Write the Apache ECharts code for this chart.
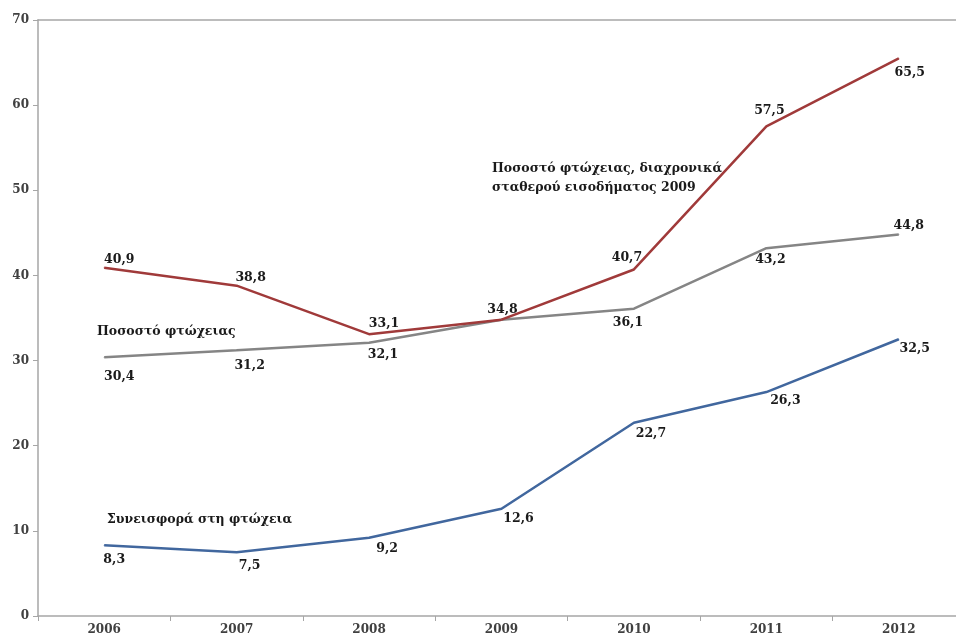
<!DOCTYPE html>
<html>
<head>
<meta charset="utf-8">
<script src="https://cdn.jsdelivr.net/npm/echarts@6/dist/echarts.min.js"></script>
<style>
  html, body { margin: 0; padding: 0; background: #fff; }
  #main { width: 956px; height: 641px; }
</style>
</head>
<body>
<div id="main"></div>
<script>
// τιμές ανά έτος
var years = ['2006', '2007', '2008', '2009', '2010', '2011', '2012'];
var fixedIncome = [40.9, 38.8, 33.1, 34.8, 40.7, 57.5, 65.5];   // σταθερού εισοδήματος 2009
var povertyRate = [30.4, 31.2, 32.1, 34.8, 36.1, 43.2, 44.8];
var contribution = [8.3, 7.5, 9.2, 12.6, 22.7, 26.3, 32.5];

// θέσεις ετικετών (μετατόπιση από το σημείο), null = χωρίς ετικέτα
var redOff = [[15, -8], [14, -8], [15, -10], [1, -10], [-7, -12], [3, -16], [11, 14]];
var grayOff = [[15, 20], [13, 15], [14, 12], null, [-6, 14], [4, 12], [10, -9]];
var blueOff = [[10, 14], [13, 14], [18, 11], [17, 10], [17, 11], [19, 9], [16, 9]];

var labelFont = 'DejaVu Serif';

function withLabels(vals, offs) {
    return vals.map(function (v, i) {
        if (!offs[i]) return { value: v, label: { show: false } };
        return { value: v, label: { offset: offs[i] } };
    });
}

function fmt(p) {
    return String(p.value).replace('.', ',');
}

function lineSeries(name, vals, offs, color) {
    return {
        name: name,
        type: 'line',
        data: withLabels(vals, offs),
        symbol: 'circle',
        symbolSize: 1,
        showSymbol: true,
        itemStyle: { color: color },
        lineStyle: { color: color, width: 2.5 },
        label: {
            show: true,
            position: 'inside',
            formatter: fmt,
            color: '#1a1a1a',
            fontFamily: labelFont,
            fontWeight: 'bold',
            fontSize: 12.5
        },
        emphasis: { disabled: true },
        animation: false
    };
}

var chartDom = document.getElementById('main');
var myChart = echarts.init(chartDom);
var option;
option = {
    backgroundColor: '#fff',
    grid: {
        left: 38,
        right: -9,
        top: 20,
        bottom: 25,
        outerBoundsMode: 'none'
    },
    xAxis: [
        {
            type: 'category',
            data: years,
            boundaryGap: true,
            axisLine: { lineStyle: { color: '#a6a6a6', width: 1.5 } },
            axisTick: { show: true, length: 5, lineStyle: { color: '#a6a6a6' } },
            axisLabel: {
                color: '#404040',
                fontFamily: labelFont,
                fontWeight: 'bold',
                fontSize: 12,
                margin: 8
            }
        },
        {
            type: 'category',
            data: years,
            position: 'top',
            axisLine: { lineStyle: { color: '#a6a6a6', width: 1.5 } },
            axisTick: { show: false },
            axisLabel: { show: false }
        }
    ],
    yAxis: {
        type: 'value',
        min: 0,
        max: 70,
        interval: 10,
        axisLine: { show: true, lineStyle: { color: '#a6a6a6', width: 1.5 } },
        axisTick: { show: true, length: 5, lineStyle: { color: '#a6a6a6' } },
        splitLine: { show: false },
        axisLabel: {
            color: '#404040',
            fontFamily: labelFont,
            fontWeight: 'bold',
            fontSize: 12,
            margin: 9
        }
    },
    graphic: [
        {
            type: 'text', left: 97, top: 325,
            style: { text: 'Ποσοστό φτώχειας', fill: '#1a1a1a', font: 'bold 12.5px "DejaVu Serif"' }
        },
        {
            type: 'text', left: 492, top: 159,
            style: {
                text: 'Ποσοστό φτώχειας, διαχρονικά\nσταθερού εισοδήματος 2009',
                fill: '#1a1a1a', font: 'bold 12.5px "DejaVu Serif"', lineHeight: 19
            }
        },
        {
            type: 'text', left: 107, top: 513,
            style: { text: 'Συνεισφορά στη φτώχεια', fill: '#1a1a1a', font: 'bold 12.5px "DejaVu Serif"' }
        }
    ],
    series: [
        lineSeries('Ποσοστό φτώχειας', povertyRate, grayOff, '#858585'),
        lineSeries('Συνεισφορά στη φτώχεια', contribution, blueOff, '#41679e'),
        lineSeries('Ποσοστό φτώχειας, διαχρονικά σταθερού εισοδήματος 2009', fixedIncome, redOff, '#a03a3a')
    ]
};
option && myChart.setOption(option);
</script>
</body>
</html>
